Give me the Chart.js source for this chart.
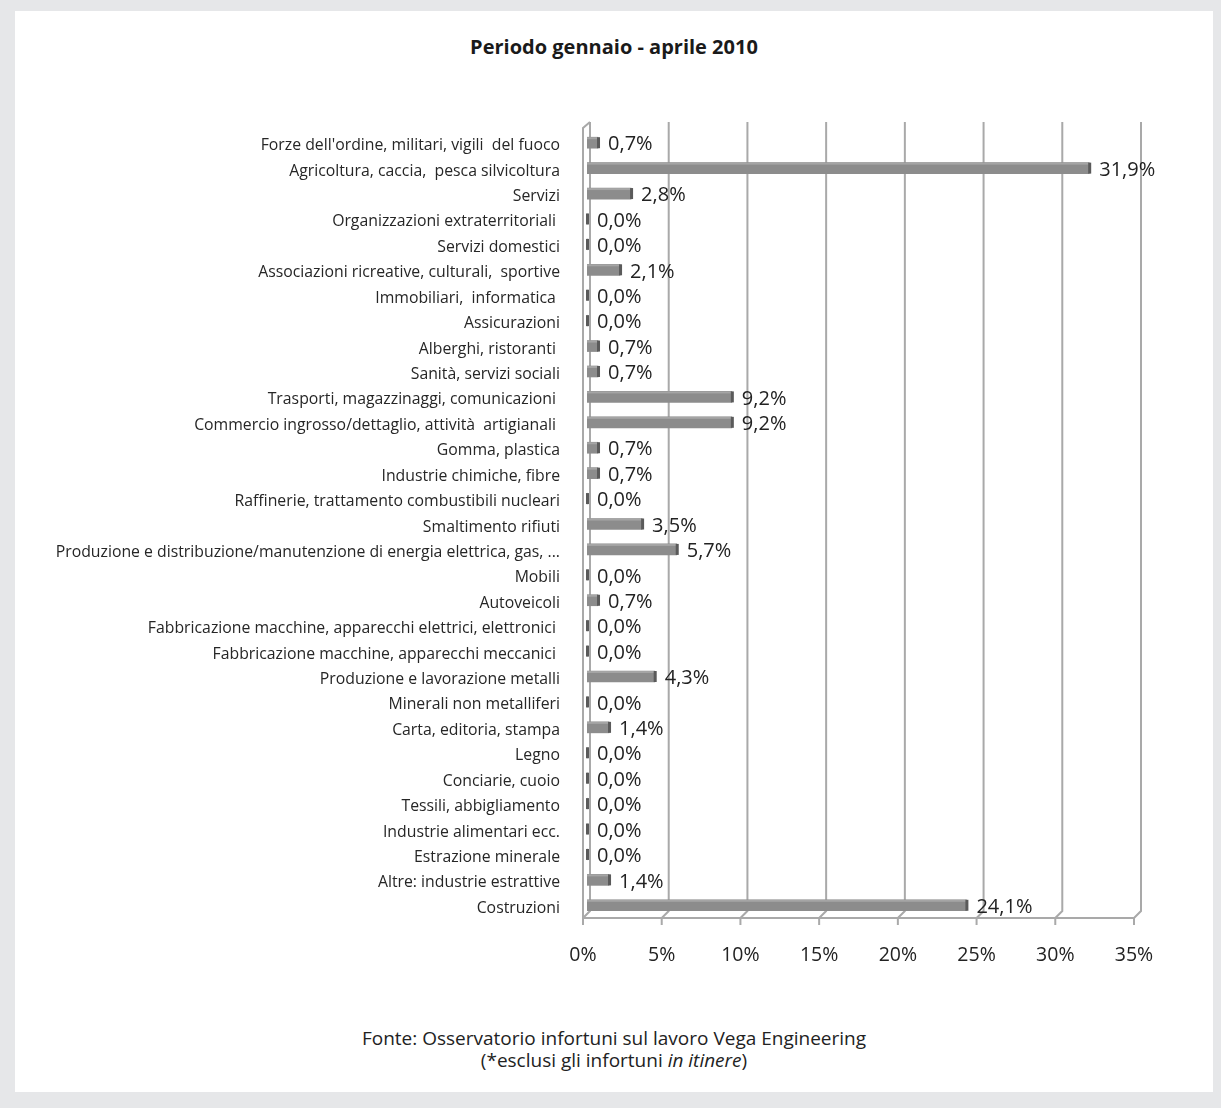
<!DOCTYPE html>
<html>
<head>
<meta charset="utf-8">
<script src="https://cdn.jsdelivr.net/npm/chart.js@4.4.0/dist/chart.umd.min.js"></script>
<style>
  body { margin: 0; background: #e6e7e9; font-family: "Open Sans", sans-serif; }
  #panel { position: absolute; left: 15px; top: 11px; width: 1198px; height: 1081px; background: #fff; }
  #title { position: absolute; left: 0; top: 24px; width: 1198px; text-align: center;
           font-size: 20px; line-height: 24px; font-weight: bold; color: #1a1a1a; }
  #wrap { position: absolute; left: 0; top: 0; width: 1198px; height: 1000px; }
  #note { position: absolute; left: 0; top: 1016px; width: 1198px; text-align: center;
          font-size: 19px; line-height: 22px; color: #222; }
</style>
</head>
<body>
<div id="panel">
  <div id="title">Periodo gennaio - aprile 2010</div>
  <div id="wrap"><canvas id="chart"></canvas></div>
  <div id="note">Fonte: Osservatorio infortuni sul lavoro Vega Engineering<br>(*esclusi gli infortuni <i>in itinere</i>)</div>
</div>
<script>
const sectors = [
  "Forze dell'ordine, militari, vigili  del fuoco",
  "Agricoltura, caccia,  pesca silvicoltura",
  "Servizi",
  "Organizzazioni extraterritoriali ",
  "Servizi domestici",
  "Associazioni ricreative, culturali,  sportive",
  "Immobiliari,  informatica ",
  "Assicurazioni",
  "Alberghi, ristoranti ",
  "Sanità, servizi sociali",
  "Trasporti, magazzinaggi, comunicazioni ",
  "Commercio ingrosso/dettaglio, attività  artigianali ",
  "Gomma, plastica",
  "Industrie chimiche, fibre",
  "Raffinerie, trattamento combustibili nucleari",
  "Smaltimento rifiuti",
  "Produzione e distribuzione/manutenzione di energia elettrica, gas, ...",
  "Mobili",
  "Autoveicoli",
  "Fabbricazione macchine, apparecchi elettrici, elettronici ",
  "Fabbricazione macchine, apparecchi meccanici ",
  "Produzione e lavorazione metalli",
  "Minerali non metalliferi",
  "Carta, editoria, stampa",
  "Legno",
  "Conciarie, cuoio",
  "Tessili, abbigliamento",
  "Industrie alimentari ecc.",
  "Estrazione minerale",
  "Altre: industrie estrattive",
  "Costruzioni"
];
const shares = [
  0.7, 31.9, 2.8, 0.0, 0.0, 2.1, 0.0, 0.0, 0.7, 0.7,
  9.2, 9.2, 0.7, 0.7, 0.0, 3.5, 5.7, 0.0, 0.7, 0.0,
  0.0, 4.3, 0.0, 1.4, 0.0, 0.0, 0.0, 0.0, 0.0, 1.4, 24.1
];
const xTicks = [0, 5, 10, 15, 20, 25, 30, 35];

const DEPTH = 7;      // 3d offset of back wall
const BAR_SHIFT = 4;  // bars sit half way into the depth

// back wall grid, floor and left wall
const frame3d = {
  id: "frame3d",
  beforeDatasetsDraw(chart) {
    const { ctx, chartArea: a, scales: { x } } = chart;
    ctx.save();
    ctx.strokeStyle = "#a9a9a9";
    ctx.lineWidth = 2;
    xTicks.forEach(v => {
      const px = x.getPixelForValue(v);
      ctx.beginPath();
      ctx.moveTo(px + DEPTH, a.top - 8);
      ctx.lineTo(px + DEPTH, a.bottom - DEPTH);
      ctx.lineTo(px, a.bottom);
      ctx.stroke();
      // tick mark under the floor
      ctx.beginPath();
      ctx.moveTo(px, a.bottom);
      ctx.lineTo(px, a.bottom + 7);
      ctx.stroke();
    });
    const x0 = x.getPixelForValue(0);
    ctx.beginPath();
    ctx.moveTo(x0, a.bottom);
    ctx.lineTo(x.getPixelForValue(35), a.bottom);
    ctx.stroke();
    ctx.beginPath();
    ctx.moveTo(x0 + DEPTH, a.top - 8);
    ctx.lineTo(x0, a.top - 2);
    ctx.lineTo(x0, a.bottom);
    ctx.stroke();
    ctx.restore();
  }
};

// shift bars into the depth, draw dark end caps and value labels
const barDecor = {
  id: "barDecor",
  beforeDatasetDraw(chart) {
    chart.ctx.save();
    chart.ctx.translate(BAR_SHIFT, 0);
  },
  afterDatasetDraw(chart) {
    chart.ctx.restore();
  },
  afterDatasetsDraw(chart) {
    const ctx = chart.ctx;
    const meta = chart.getDatasetMeta(0);
    ctx.save();
    ctx.font = "20px 'Open Sans'";
    ctx.textBaseline = "middle";
    meta.data.forEach((bar, i) => {
      const end = bar.x + BAR_SHIFT;
      const h = bar.height;
      ctx.fillStyle = "#a5a5a5";
      ctx.fillRect(Math.min(bar.base + BAR_SHIFT, end), bar.y - h / 2, Math.max(end - bar.base - BAR_SHIFT, 0), 2);
      ctx.fillStyle = "#5a5a5a";
      ctx.fillRect(end - 1, bar.y - h / 2, 3, h);
      ctx.fillStyle = "#222";
      ctx.fillText(shares[i].toFixed(1).replace(".", ",") + "%", end + 10, bar.y + 2);
    });
    ctx.restore();
  }
};

new Chart(document.getElementById("chart"), {
  type: "bar",
  data: {
    labels: sectors,
    datasets: [{
      data: shares,
      backgroundColor: "#8c8c8c",
      barThickness: 11,
      borderWidth: 0
    }]
  },
  options: {
    indexAxis: "y",
    responsive: true,
    maintainAspectRatio: false,
    animation: false,
    layout: { padding: { left: 0, right: 79, top: 119, bottom: 0 } },
    plugins: {
      legend: { display: false },
      tooltip: { enabled: false }
    },
    scales: {
      x: {
        min: 0,
        max: 35,
        afterBuildTicks: s => { s.ticks = xTicks.map(v => ({ value: v })); },
        afterFit: s => { s.height = 93; },
        grid: { display: false, drawTicks: false },
        border: { display: false },
        ticks: {
          padding: 26,
          color: "#222",
          font: { family: "'Open Sans'", size: 19.5 },
          callback: v => v + "%"
        }
      },
      y: {
        afterFit: s => { s.width = 568; },
        grid: { display: false, drawTicks: false },
        border: { display: false },
        ticks: {
          padding: 23,
          labelOffset: 3,
          autoSkip: false,
          color: "#262626",
          font: { family: "'Open Sans'", size: 15.8 }
        }
      }
    }
  },
  plugins: [frame3d, barDecor]
});
</script>
</body>
</html>
